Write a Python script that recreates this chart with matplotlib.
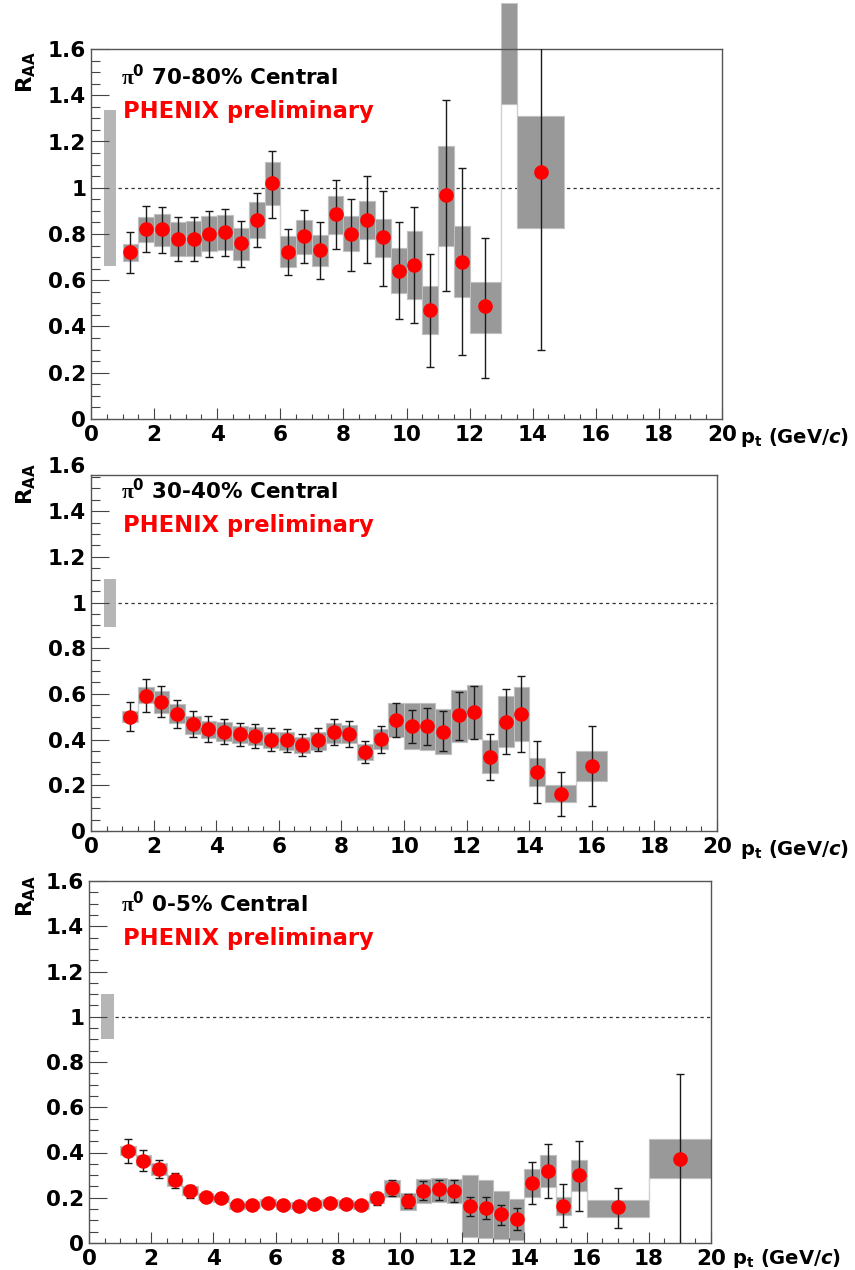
import numpy as np
import matplotlib
matplotlib.use("Agg")
import matplotlib.pyplot as plt
from matplotlib.ticker import MultipleLocator, FuncFormatter

plt.rcParams['font.family'] = ['DejaVu Sans']
plt.rcParams['font.weight'] = 'bold'
plt.rcParams['mathtext.fontset'] = 'custom'
plt.rcParams['mathtext.rm'] = 'Liberation Serif'
plt.rcParams['mathtext.bf'] = 'DejaVu Sans:bold'
plt.rcParams['mathtext.it'] = 'DejaVu Sans:bold:italic'

# ---- pi0 R_AA, 70-80% central ----
pt_70 = np.array([1.25, 1.75, 2.25, 2.75, 3.25, 3.75, 4.25, 4.75, 5.25, 5.75, 6.25, 6.75,
                  7.25, 7.75, 8.25, 8.75, 9.25, 9.75, 10.25, 10.75, 11.25, 11.75, 12.5, 13.25, 14.25])
hw_70 = np.array([0.25] * 22 + [0.5, 0.25, 0.75])
raa_70 = np.array([0.72, 0.82, 0.82, 0.78, 0.78, 0.80, 0.81, 0.76, 0.86, 1.02, 0.72, 0.79,
                   0.73, 0.885, 0.80, 0.86, 0.785, 0.64, 0.665, 0.47, 0.97, 0.68, 0.49, 1.66, 1.07])
stat_hi_70 = np.array([0.807, 0.923, 0.916, 0.874, 0.874, 0.900, 0.906, 0.857, 0.977, 1.160, 0.823, 0.904,
                       0.854, 1.033, 0.953, 1.050, 0.987, 0.854, 0.917, 0.715, 1.380, 1.086, 0.784, 1.70, 1.84])
stat_lo_70 = np.array([0.631, 0.723, 0.718, 0.684, 0.684, 0.700, 0.706, 0.658, 0.744, 0.871, 0.624, 0.676,
                       0.605, 0.733, 0.642, 0.674, 0.577, 0.433, 0.415, 0.227, 0.553, 0.278, 0.179, 1.62, 0.299])
sys_hi_70 = np.array([0.755, 0.875, 0.885, 0.851, 0.855, 0.877, 0.883, 0.826, 0.939, 1.110, 0.790, 0.862,
                      0.794, 0.966, 0.876, 0.942, 0.867, 0.741, 0.812, 0.577, 1.182, 0.835, 0.592, 1.797, 1.312])
sys_lo_70 = np.array([0.684, 0.767, 0.747, 0.705, 0.705, 0.726, 0.732, 0.689, 0.783, 0.924, 0.657, 0.713,
                      0.660, 0.802, 0.725, 0.780, 0.700, 0.543, 0.520, 0.368, 0.748, 0.528, 0.372, 1.362, 0.828])
norm_70 = (0.66, 1.337)

# ---- 30-40% central ----
pt_30 = np.array([1.25, 1.75, 2.25, 2.75, 3.25, 3.75, 4.25, 4.75, 5.25, 5.75, 6.25, 6.75, 7.25,
                  7.75, 8.25, 8.75, 9.25, 9.75, 10.25, 10.75, 11.25, 11.75, 12.25, 12.75, 13.25, 13.75,
                  14.25, 15.0, 16.0])
hw_30 = np.array([0.25] * 27 + [0.5, 0.5])
raa_30 = np.array([0.500, 0.591, 0.565, 0.512, 0.467, 0.445, 0.435, 0.423, 0.416, 0.398, 0.397, 0.376, 0.398,
                   0.432, 0.424, 0.344, 0.401, 0.486, 0.460, 0.460, 0.435, 0.506, 0.521, 0.325, 0.478, 0.513,
                   0.258, 0.162, 0.286])
stat_hi_30 = np.array([0.563, 0.664, 0.635, 0.573, 0.525, 0.502, 0.489, 0.474, 0.467, 0.449, 0.445, 0.423, 0.449,
                       0.489, 0.481, 0.394, 0.461, 0.559, 0.531, 0.538, 0.524, 0.607, 0.636, 0.426, 0.621, 0.680,
                       0.393, 0.258, 0.460])
stat_lo_30 = np.array([0.438, 0.519, 0.497, 0.449, 0.413, 0.391, 0.382, 0.372, 0.365, 0.349, 0.346, 0.330, 0.349,
                       0.376, 0.369, 0.296, 0.343, 0.413, 0.384, 0.375, 0.349, 0.398, 0.403, 0.225, 0.337, 0.344,
                       0.123, 0.067, 0.111])
sys_hi_30 = np.array([0.526, 0.630, 0.614, 0.556, 0.505, 0.483, 0.476, 0.461, 0.454, 0.435, 0.435, 0.413, 0.435,
                      0.471, 0.465, 0.379, 0.445, 0.561, 0.559, 0.561, 0.532, 0.617, 0.639, 0.400, 0.591, 0.629,
                      0.318, 0.201, 0.351])
sys_lo_30 = np.array([0.476, 0.559, 0.518, 0.471, 0.424, 0.408, 0.394, 0.384, 0.375, 0.362, 0.354, 0.340, 0.356,
                      0.384, 0.384, 0.311, 0.358, 0.413, 0.358, 0.354, 0.337, 0.391, 0.403, 0.253, 0.369, 0.395,
                      0.198, 0.126, 0.219])
norm_30 = (0.894, 1.103)

# ---- 0-5% central ----
pt_0 = np.array([1.25, 1.75, 2.25, 2.75, 3.25, 3.75, 4.25, 4.75, 5.25, 5.75, 6.25, 6.75, 7.25,
                 7.75, 8.25, 8.75, 9.25, 9.75, 10.25, 10.75, 11.25, 11.75, 12.25, 12.75, 13.25, 13.75,
                 14.25, 14.75, 15.25, 15.75, 17.0, 19.0])
hw_0 = np.array([0.25] * 30 + [1.0, 1.0])
raa_0 = np.array([0.408, 0.364, 0.327, 0.277, 0.231, 0.204, 0.197, 0.166, 0.170, 0.179, 0.167, 0.165, 0.172,
                  0.178, 0.172, 0.168, 0.197, 0.242, 0.186, 0.230, 0.238, 0.230, 0.164, 0.154, 0.126, 0.105,
                  0.264, 0.319, 0.164, 0.301, 0.157, 0.373])
stat_hi_0 = np.array([0.461, 0.411, 0.366, 0.309, 0.258, 0.217, 0.210, 0.179, 0.183, 0.192, 0.180, 0.178, 0.185,
                      0.191, 0.185, 0.181, 0.224, 0.277, 0.218, 0.272, 0.279, 0.279, 0.205, 0.202, 0.170, 0.154,
                      0.360, 0.438, 0.260, 0.453, 0.245, 0.748])
stat_lo_0 = np.array([0.355, 0.319, 0.287, 0.243, 0.200, 0.191, 0.184, 0.153, 0.157, 0.166, 0.154, 0.152, 0.159,
                      0.165, 0.159, 0.155, 0.169, 0.206, 0.155, 0.188, 0.190, 0.183, 0.119, 0.105, 0.080, 0.058,
                      0.171, 0.199, 0.069, 0.143, 0.065, -0.03])
sys_hi_0 = np.array([0.427, 0.390, 0.355, 0.301, 0.253, 0.220, 0.213, 0.182, 0.186, 0.195, 0.183, 0.181, 0.188,
                     0.194, 0.188, 0.184, 0.221, 0.280, 0.222, 0.282, 0.289, 0.282, 0.300, 0.280, 0.229, 0.193,
                     0.326, 0.389, 0.203, 0.369, 0.192, 0.458])
sys_lo_0 = np.array([0.389, 0.343, 0.299, 0.252, 0.211, 0.188, 0.181, 0.150, 0.154, 0.163, 0.151, 0.149, 0.156,
                     0.162, 0.156, 0.152, 0.177, 0.203, 0.144, 0.177, 0.181, 0.177, 0.027, 0.022, 0.019, 0.015,
                     0.203, 0.246, 0.122, 0.229, 0.116, 0.286])
norm_0 = (0.90, 1.10)

W, H = 855, 1270
fig = plt.figure(figsize=(W / 100, H / 100), dpi=100)


def fx(px):
    return px / W


def fy(py):
    return 1 - py / H


def draw_panel(box, ytop, text_y, title, pt, hw, raa, st_hi, st_lo, sy_hi, sy_lo, norm, xlab):
    left, right, top, bottom = box
    ax = fig.add_axes([fx(left), fy(bottom), (right - left) / W, (bottom - top) / H])
    ax.set_xlim(0, 20)
    ax.set_ylim(0, ytop)

    # global normalisation uncertainty
    ax.bar(0.6, norm[1] - norm[0], width=0.4, bottom=norm[0], color='#b6b6b6',
           linewidth=0, zorder=1)
    ax.plot([0.85, 20], [1, 1], ls=(0, (2.6, 2.6)), color='#333333', lw=0.9, zorder=1)

    # systematic boxes, with the light outline ROOT draws around the band
    edges = np.append(pt - hw, pt[-1] + hw[-1])
    ax.stairs(sy_hi, edges, baseline=None, color='#d2d2d2', lw=0.9, zorder=0.9)
    ax.stairs(sy_lo, edges, baseline=None, color='#d2d2d2', lw=0.9, zorder=0.9)
    ax.bar(pt, sy_hi - sy_lo, width=2 * hw, bottom=sy_lo, color='#999999',
           edgecolor='#c4c4c4', linewidth=0.6, clip_on=False, zorder=1.5)

    ax.errorbar(pt, raa, yerr=[raa - st_lo, st_hi - raa], fmt='o', ms=9.5,
                mfc='red', mec='red', ecolor='#1a1a1a', elinewidth=1.0,
                capsize=3.0, capthick=1.0, zorder=3)

    ax.xaxis.set_major_locator(MultipleLocator(2))
    ax.xaxis.set_minor_locator(MultipleLocator(0.5))
    ax.yaxis.set_major_locator(MultipleLocator(0.2))
    ax.yaxis.set_minor_locator(MultipleLocator(0.05))
    ax.yaxis.set_major_formatter(FuncFormatter(lambda v, p: f'{v:g}'))
    ax.tick_params(which='both', direction='in', top=False, right=False,
                   color='#444444', width=0.8, labelsize=15.5)
    ax.tick_params(axis='y', which='major', length=13, pad=3.5)
    ax.tick_params(axis='y', which='minor', length=6.5)
    ax.tick_params(axis='x', which='major', length=8, pad=4.5)
    ax.tick_params(axis='x', which='minor', length=3.6)
    for sp in ax.spines.values():
        sp.set_color('#555555')
        sp.set_linewidth(1.0)
    for lab in ax.get_xticklabels() + ax.get_yticklabels():
        lab.set_fontweight('bold')

    # the frame may stop just short of 1.6; keep its label anyway
    if ytop < 1.6:
        ax.annotate('1.6', xy=(0, 1.6), xycoords=('axes fraction', 'data'),
                    xytext=(-3.5, 0), textcoords='offset points', ha='right',
                    va='center_baseline', fontsize=15.5, fontweight='bold',
                    annotation_clip=False)

    raa_top, title_base, phenix_base = text_y
    fig.text(fx(121), fy(title_base), title, fontsize=15.5, fontweight='bold',
             color='black', va='baseline')
    fig.text(fx(123), fy(phenix_base), 'PHENIX preliminary', fontsize=16.3,
             fontweight='bold', color='red', va='baseline')
    fig.text(fx(26), fy(raa_top), r'R$_{\mathbf{AA}}$', fontsize=15.5, fontweight='bold',
             rotation=90, ha='center', va='top')
    fig.text(fx(xlab[0]), fy(xlab[1]), r'p$_{\mathbf{t}}$ (GeV/$\mathit{c}$)',
             fontsize=14, fontweight='bold', ha='left', va='baseline')
    return ax


draw_panel((91, 722, 49, 419), 1.6, (51, 85, 118), r'$\mathrm{\pi}^{\mathbf{0}}$ 70-80% Central',
           pt_70, hw_70, raa_70, stat_hi_70, stat_lo_70, sys_hi_70, sys_lo_70, norm_70, (740, 443))
draw_panel((91, 717, 475, 831), 1.558, (463, 499, 532), r'$\mathrm{\pi}^{\mathbf{0}}$ 30-40% Central',
           pt_30, hw_30, raa_30, stat_hi_30, stat_lo_30, sys_hi_30, sys_lo_30, norm_30, (740, 855))
draw_panel((89, 711, 881, 1243), 1.6, (875, 912, 945), r'$\mathrm{\pi}^{\mathbf{0}}$ 0-5% Central',
           pt_0, hw_0, raa_0, stat_hi_0, stat_lo_0, sys_hi_0, sys_lo_0, norm_0, (732, 1264))

fig.savefig('out.png', dpi=100)
